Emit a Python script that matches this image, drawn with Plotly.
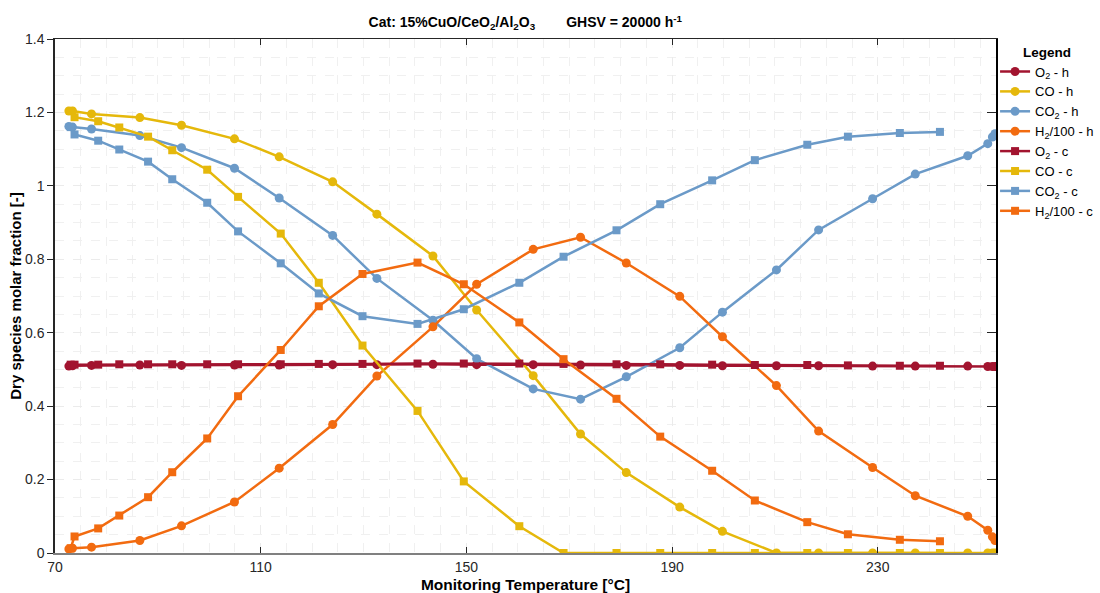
import plotly.graph_objects as go

# ---- heating ramp (h, circles) ----
T_h = [72.7, 73.4, 77.1, 86.5, 94.6, 104.9, 113.6, 124.0, 132.6, 143.5, 152.0, 163.0,
       172.2, 181.1, 191.5, 199.8, 210.3, 218.5, 229.0, 237.3, 247.5, 251.4, 252.3, 252.8]
O2_h = [0.509, 0.510, 0.511, 0.512, 0.511, 0.512, 0.512, 0.513, 0.513, 0.514, 0.513, 0.513,
        0.512, 0.511, 0.511, 0.510, 0.510, 0.510, 0.509, 0.509, 0.509, 0.508, 0.508, 0.508]
CO_h = [1.204, 1.204, 1.196, 1.186, 1.165, 1.128, 1.079, 1.011, 0.923, 0.809, 0.662, 0.483,
        0.324, 0.219, 0.125, 0.059, 0.0, 0.0, 0.0, 0.0, 0.0, 0.0, 0.0, 0.0]
CO2_h = [1.162, 1.160, 1.155, 1.137, 1.104, 1.048, 0.967, 0.865, 0.748, 0.634, 0.529, 0.447,
         0.419, 0.480, 0.559, 0.656, 0.771, 0.880, 0.965, 1.032, 1.082, 1.115, 1.133, 1.142]
H2_h = [0.011, 0.013, 0.016, 0.034, 0.074, 0.139, 0.231, 0.350, 0.482, 0.616, 0.732, 0.827,
        0.860, 0.790, 0.699, 0.589, 0.456, 0.332, 0.233, 0.156, 0.100, 0.062, 0.044, 0.034]

# ---- cooling ramp (c, squares) ----
T_c = [73.05, 73.8, 78.4, 82.5, 88.1, 92.8, 99.6, 105.6, 113.9, 121.3, 129.8, 140.5,
       149.5, 160.3, 168.9, 179.2, 187.7, 197.8, 206.1, 216.3, 224.2, 234.3, 242.1]
O2_c = [0.513, 0.513, 0.513, 0.514, 0.514, 0.514, 0.514, 0.514, 0.514, 0.515, 0.515, 0.516,
        0.516, 0.516, 0.515, 0.514, 0.514, 0.513, 0.512, 0.512, 0.511, 0.510, 0.510]
CO_c = [1.204, 1.187, 1.176, 1.159, 1.134, 1.097, 1.044, 0.970, 0.870, 0.736, 0.565, 0.387,
        0.195, 0.073, 0.0, 0.0, 0.0, 0.0, 0.0, 0.0, 0.0, 0.0, 0.0]
CO2_c = [1.160, 1.140, 1.123, 1.099, 1.066, 1.018, 0.954, 0.876, 0.789, 0.707, 0.645, 0.624,
         0.664, 0.736, 0.807, 0.879, 0.950, 1.015, 1.070, 1.112, 1.134, 1.144, 1.147]
H2_c = [0.013, 0.045, 0.067, 0.102, 0.152, 0.220, 0.312, 0.427, 0.553, 0.672, 0.760, 0.791,
        0.732, 0.628, 0.528, 0.420, 0.317, 0.224, 0.143, 0.084, 0.051, 0.036, 0.032]

X_RANGE = [70, 253]
Y_RANGE = [0, 1.4]
X_TICKS = [70, 110, 150, 190, 230]
Y_TICKS = [0, 0.2, 0.4, 0.6, 0.8, 1.0, 1.2, 1.4]
Y_TICKTEXT = ["0", "0.2", "0.4", "0.6", "0.8", "1", "1.2", "1.4"]

C_O2 = "#A2142F"
C_CO = "#E5B80B"
C_CO2 = "#6B9AC8"
C_H2 = "#F26B10"

FONT = "Liberation Sans, Arial, sans-serif"

fig = go.Figure()

series = [
    (T_h, O2_h, "O<sub>2</sub> - h", C_O2, "circle", 9),
    (T_h, CO_h, "CO - h", C_CO, "circle", 9),
    (T_h, CO2_h, "CO<sub>2</sub> - h", C_CO2, "circle", 9),
    (T_h, H2_h, "H<sub>2</sub>/100 - h", C_H2, "circle", 9),
    (T_c, O2_c, "O<sub>2</sub> - c", C_O2, "square", 8),
    (T_c, CO_c, "CO - c", C_CO, "square", 8),
    (T_c, CO2_c, "CO<sub>2</sub> - c", C_CO2, "square", 8),
    (T_c, H2_c, "H<sub>2</sub>/100 - c", C_H2, "square", 8),
]
for x, y, name, col, sym, size in series:
    fig.add_trace(go.Scatter(
        x=x, y=y, name=name, mode="lines+markers",
        line=dict(color=col, width=2.5),
        marker=dict(color=col, symbol=sym, size=size, line=dict(width=0)),
    ))

# dummy trace so the mirrored axes (top / right) are drawn
fig.add_trace(go.Scatter(x=[None], y=[None], xaxis="x2", yaxis="y2",
                         showlegend=False, hoverinfo="skip"))

fig.update_layout(
    width=1100, height=593,
    paper_bgcolor="white", plot_bgcolor="white",
    margin=dict(l=55, r=104, t=39, b=40, autoexpand=False),
    font=dict(family=FONT, size=14, color="#262626"),
    title=dict(
        text="Cat: 15%CuO/CeO<sub>2</sub>/Al<sub>2</sub>O<sub>3</sub>"
             "&nbsp;&nbsp;&nbsp;&nbsp;&nbsp;&nbsp;&nbsp;&nbsp;GHSV = 20000 h<sup>-1</sup>",
        x=0.4775, xanchor="center", y=0.962, yanchor="middle",
        font=dict(family=FONT, size=14, color="#000000", weight="bold"),
    ),
    xaxis=dict(
        range=X_RANGE, tickvals=X_TICKS, ticks="inside", ticklen=6, tickcolor="#262626",
        showline=True, linecolor="#808080", linewidth=2,
        showgrid=True, gridcolor="#ebebeb", griddash="dash", gridwidth=1,
        minor=dict(dtick=5, tick0=70, showgrid=True, gridcolor="#f0f0f0", griddash="dash"),
        zeroline=False,
        tickfont=dict(size=14, color="#262626"),
        title=dict(text="<b>Monitoring Temperature [°C]</b>",
                   font=dict(size=15.5, color="#000"), standoff=6),
        automargin=False,
    ),
    yaxis=dict(
        range=Y_RANGE, tickvals=Y_TICKS, ticktext=Y_TICKTEXT,
        ticks="outside", ticklen=6, tickcolor="#262626",
        showline=True, linecolor="#262626", linewidth=1.5,
        showgrid=True, gridcolor="#ebebeb", griddash="dash", gridwidth=1,
        minor=dict(dtick=0.05, tick0=0, showgrid=True, gridcolor="#f0f0f0", griddash="dash"),
        zeroline=False,
        tickfont=dict(size=14, color="#262626"),
        title=dict(text="<b>Dry species molar fraction [-]</b>",
                   font=dict(size=15, color="#000"), standoff=0),
        automargin=False,
    ),
    xaxis2=dict(
        overlaying="x", side="top", range=X_RANGE, tickvals=X_TICKS,
        ticks="inside", ticklen=6, tickcolor="#262626", showticklabels=False,
        showline=True, linecolor="#262626", linewidth=1, showgrid=False, zeroline=False,
    ),
    yaxis2=dict(
        overlaying="y", side="right", range=Y_RANGE, tickvals=Y_TICKS,
        ticks="inside", ticklen=9, tickcolor="#262626", showticklabels=False,
        showline=True, linecolor="#000000", linewidth=1.5, showgrid=False, zeroline=False,
    ),
    legend=dict(
        x=0.999, xanchor="left", y=1.0, yanchor="top",
        bgcolor="rgba(255,255,255,0)", borderwidth=0,
        font=dict(family=FONT, size=13, color="#000"),
        title=dict(text="<b>Legend</b>", side="top center",
                   font=dict(family=FONT, size=13.5, color="#000")),
        tracegroupgap=0, itemwidth=30,
    ),
    showlegend=True,
)

fig.write_html("out.html")
